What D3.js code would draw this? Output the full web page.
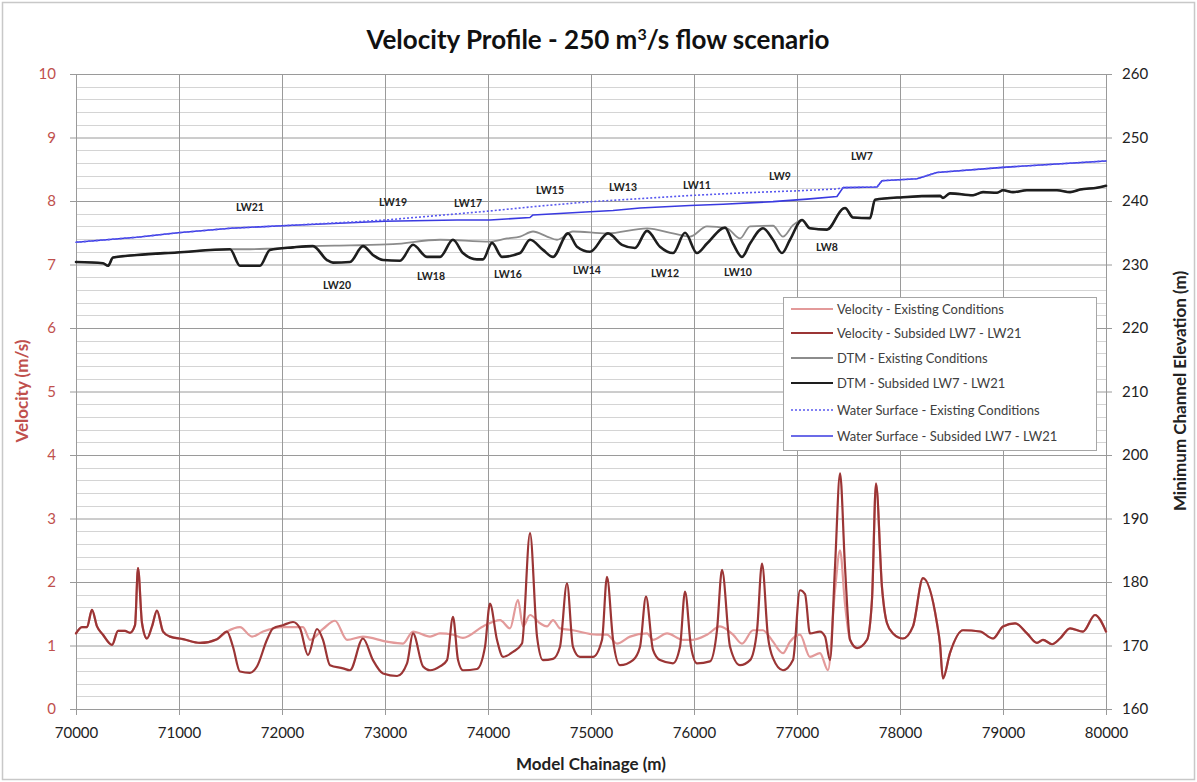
<!DOCTYPE html>
<html>
<head>
<meta charset="utf-8">
<script src="https://cdn.jsdelivr.net/npm/d3@7"></script>
<style>
  html, body { margin: 0; padding: 0; background: #fff; }
  svg { display: block; font-family: Lato, "Open Sans", sans-serif; }
</style>
</head>
<body>
<svg id="chart" width="1197" height="782"></svg>
<script>
// Chainage ticks (m)
const chainageTicks = [70000, 71000, 72000, 73000, 74000, 75000, 76000, 77000, 78000, 79000, 80000];
const velocityTicks = [0, 1, 2, 3, 4, 5, 6, 7, 8, 9, 10];
const elevationTicks = [160, 170, 180, 190, 200, 210, 220, 230, 240, 250, 260];

// Velocity (m/s) vs chainage — subsided LW7–LW21
const velocitySubsided = [
  [70000,1.19],[70058,1.29],[70107,1.29],[70155,1.56],[70204,1.30],[70262,1.17],[70350,1.01],[70408,1.23],
  [70476,1.23],[70524,1.20],[70573,1.32],[70602,2.22],[70641,1.35],[70689,1.11],[70738,1.30],[70786,1.55],
  [70845,1.22],[70913,1.14],[71039,1.10],[71204,1.04],[71369,1.10],[71466,1.22],[71524,0.98],[71592,0.59],
  [71689,0.57],[71757,0.67],[71854,1.09],[71913,1.27],[72010,1.32],[72107,1.37],[72175,1.27],[72252,0.85],
  [72340,1.26],[72398,1.09],[72466,0.69],[72592,0.64],[72660,0.61],[72786,1.11],[72883,0.77],[72981,0.56],
  [73117,0.52],[73214,0.72],[73272,1.19],[73369,0.67],[73437,0.61],[73534,0.67],[73602,0.77],[73660,1.45],
  [73709,0.77],[73757,0.61],[73893,0.63],[73971,0.98],[74019,1.66],[74087,1.09],[74146,0.82],[74243,0.90],
  [74330,1.03],[74408,2.77],[74476,1.14],[74534,0.77],[74631,0.79],[74699,0.98],[74767,1.98],[74825,0.98],
  [74893,0.82],[75019,0.82],[75107,1.09],[75155,2.08],[75214,1.09],[75282,0.69],[75408,0.77],[75476,0.98],
  [75534,1.77],[75602,0.93],[75670,0.77],[75796,0.72],[75864,0.98],[75913,1.85],[75971,0.98],[76029,0.72],
  [76155,0.75],[76223,1.24],[76272,2.19],[76350,0.98],[76447,0.69],[76544,0.77],[76612,1.24],[76660,2.29],
  [76718,1.14],[76767,0.80],[76864,0.61],[76961,0.77],[77029,1.87],[77078,1.81],[77126,1.19],[77223,1.22],
  [77272,1.14],[77320,0.77],[77369,2.24],[77418,3.71],[77466,2.24],[77515,1.09],[77583,0.96],[77680,1.09],
  [77728,1.72],[77767,3.55],[77825,1.92],[77874,1.35],[77932,1.19],[78029,1.11],[78126,1.30],[78223,2.06],
  [78359,1.35],[78388,1.03],[78417,0.48],[78485,0.88],[78612,1.24],[78777,1.22],[78903,1.11],[79000,1.30],
  [79117,1.35],[79233,1.19],[79330,1.04],[79388,1.09],[79476,1.02],[79553,1.11],[79651,1.27],[79777,1.22],
  [79893,1.48],[80000,1.22]
];

// Velocity (m/s) — existing conditions (differs between 71466 and 77515)
const velocityExisting = [
  [70000,1.19],[70058,1.29],[70107,1.29],[70155,1.56],[70204,1.30],[70262,1.17],[70350,1.01],[70408,1.23],
  [70476,1.23],[70524,1.20],[70573,1.32],[70602,2.22],[70641,1.35],[70689,1.11],[70738,1.30],[70786,1.55],
  [70845,1.22],[70913,1.14],[71039,1.10],[71204,1.04],[71369,1.10],[71466,1.22],[71592,1.29],[71709,1.14],
  [71816,1.22],[72010,1.29],[72204,1.29],[72272,1.09],[72398,1.26],[72515,1.39],[72631,1.09],[72786,1.14],
  [73019,1.06],[73175,1.03],[73272,1.22],[73437,1.14],[73534,1.19],[73660,1.17],[73757,1.12],[73951,1.30],
  [74117,1.40],[74214,1.27],[74291,1.72],[74340,1.30],[74408,1.48],[74505,1.35],[74573,1.30],[74631,1.40],
  [74699,1.27],[74825,1.24],[75058,1.17],[75155,1.17],[75252,1.03],[75379,1.14],[75544,1.19],[75602,1.09],
  [75738,1.19],[75893,1.09],[75990,1.09],[76126,1.17],[76252,1.30],[76379,1.17],[76466,1.03],[76573,1.24],
  [76670,1.24],[76709,1.19],[76767,1.06],[76864,0.88],[76932,1.06],[77029,1.17],[77126,0.82],[77223,0.88],
  [77301,0.61],[77369,1.87],[77418,2.50],[77466,1.65],[77515,1.09],[77583,0.96],[77680,1.09],
  [77728,1.72],[77767,3.55],[77825,1.92],[77874,1.35],[77932,1.19],[78029,1.11],[78126,1.30],[78223,2.06],
  [78359,1.35],[78388,1.03],[78417,0.48],[78485,0.88],[78612,1.24],[78777,1.22],[78903,1.11],[79000,1.30],
  [79117,1.35],[79233,1.19],[79330,1.04],[79388,1.09],[79476,1.02],[79553,1.11],[79651,1.27],[79777,1.22],
  [79893,1.48],[80000,1.22]
];

// Minimum channel elevation (m) — subsided DTM
const dtmSubsided = [
  [70000,230.4],[70262,230.2],[70311,229.8],[70359,231.1],[70592,231.5],[70981,231.9],[71495,232.4],[71592,229.8],
  [71786,229.8],[71883,232.3],[72107,232.7],[72301,232.9],[72437,230.7],[72495,230.3],[72660,230.4],[72786,232.9],
  [72883,231.5],[72981,230.7],[73146,230.6],[73272,233.1],[73408,231.2],[73534,231.2],[73660,233.9],[73757,231.8],
  [73893,230.8],[73951,230.8],[74039,233.4],[74136,231.2],[74311,231.8],[74408,233.9],[74534,232.3],[74631,231.2],
  [74777,234.9],[74864,232.8],[74990,232.0],[75165,234.9],[75301,233.1],[75427,232.6],[75544,235.3],[75670,232.8],
  [75796,231.8],[75913,235.0],[76029,231.8],[76126,233.3],[76301,235.8],[76379,233.3],[76466,231.2],[76544,233.3],
  [76670,235.7],[76767,233.9],[76854,231.8],[76932,233.9],[77049,237.0],[77126,235.7],[77291,235.5],[77447,238.8],
  [77466,238.9],[77544,237.4],[77709,237.3],[77757,240.2],[78029,240.6],[78388,240.8],[78417,240.5],[78485,241.2],
  [78709,240.9],[78806,241.4],[78942,241.3],[79000,241.7],[79097,241.4],[79233,241.7],[79524,241.7],[79651,241.4],
  [79748,241.8],[79913,242.1],[80000,242.4]
];

// Minimum channel elevation (m) — existing DTM
const dtmExisting = [
  [70000,230.4],[70262,230.2],[70311,229.8],[70359,231.1],[70592,231.5],[70981,231.9],[71495,232.4],[71689,232.4],
  [71883,232.5],[72107,232.7],[72301,232.9],[72660,233.0],[73078,233.2],[73534,233.9],[74019,233.6],[74184,234.1],
  [74311,234.4],[74437,235.2],[74573,234.4],[74670,233.9],[74825,235.2],[75155,234.9],[75544,235.7],[75796,234.9],
  [75961,234.4],[76126,236.0],[76320,235.7],[76447,234.1],[76544,236.0],[76767,236.1],[76864,234.4],[76961,236.2],
  [77049,237.0],[77126,235.7],[77291,235.5],[77447,238.8],
  [77466,238.9],[77544,237.4],[77709,237.3],[77757,240.2],[78029,240.6],[78388,240.8],[78417,240.5],[78485,241.2],
  [78709,240.9],[78806,241.4],[78942,241.3],[79000,241.7],[79097,241.4],[79233,241.7],[79524,241.7],[79651,241.4],
  [79748,241.8],[79913,242.1],[80000,242.4]
];

// Water surface (m) — subsided
const waterSubsided = [
  [70000,233.5],[70592,234.3],[70990,235.0],[71500,235.7],[72000,236.1],[73000,236.8],[73700,237.0],[74019,237.0],
  [74408,237.4],[74437,237.8],[74990,238.3],[75214,238.5],[75476,238.9],[75961,239.3],[76282,239.5],[76767,239.9],
  [77097,240.3],[77388,240.7],[77447,242.1],[77777,242.2],[77825,243.2],[78165,243.5],[78359,244.5],[79000,245.3],
  [80000,246.3]
];

// Water surface (m) — existing
const waterExisting = [
  [70000,233.5],[70592,234.3],[70990,235.0],[71500,235.7],[72000,236.1],[72800,236.8],[73000,237.0],[73500,237.7],
  [74000,238.4],[74500,239.2],[75000,239.9],[75500,240.4],[76000,240.9],[76500,241.3],[77000,241.6],[77388,241.9],
  [77447,242.1],[77777,242.2],[77825,243.2],[78165,243.5],[78359,244.5],[79000,245.3],[80000,246.3]
];

// Longwall panel labels (chainage, elevation)
const panelLabels = [
  ["LW21",71689,239.1],["LW19",73078,239.8],["LW17",73806,239.7],["LW15",74602,241.7],["LW13",75311,242.2],
  ["LW11",76029,242.5],["LW9",76835,243.9],["LW7",77631,247.1],["LW8",77291,232.8],["LW20",72534,226.8],
  ["LW18",73447,228.2],["LW16",74194,228.5],["LW14",74961,229.1],["LW12",75719,228.7],["LW10",76427,228.8]
];

const legendNames = [
  "Velocity - Existing Conditions",
  "Velocity - Subsided LW7 - LW21",
  "DTM - Existing Conditions",
  "DTM - Subsided LW7 - LW21",
  "Water Surface - Existing Conditions",
  "Water Surface - Subsided LW7 - LW21"
];

const svg = d3.select("#chart");
const W = 1197, H = 782;
const pL = 76, pR = 1106, pT = 74, pB = 709;

const x = d3.scaleLinear().domain([70000, 80000]).range([pL, pR]);
const yV = d3.scaleLinear().domain([0, 10]).range([pB, pT]);
const yE = d3.scaleLinear().domain([160, 260]).range([pB, pT]);

// Chart frame
svg.append("rect").attr("x", 2.5).attr("y", 2.5).attr("width", W - 5).attr("height", H - 5)
  .attr("fill", "#fff").attr("stroke", "#c8c8c8").attr("stroke-width", 1.5);

// Minor horizontal gridlines
const minor = d3.range(0, 10.001, 0.2).filter(v => Math.abs(v - Math.round(v)) > 1e-6);
svg.append("g").selectAll("line").data(minor).join("line")
  .attr("x1", pL).attr("x2", pR)
  .attr("y1", d => Math.round(yV(d)) + 0.5).attr("y2", d => Math.round(yV(d)) + 0.5)
  .attr("stroke", "#d4d4d4").attr("stroke-width", 1);

// Major horizontal gridlines
const gridY = svg.append("g").attr("transform", `translate(${pL},0)`)
  .call(d3.axisLeft(yV).tickValues(velocityTicks).tickSize(-(pR - pL)).tickFormat(""));
gridY.select(".domain").remove();
gridY.selectAll("line").attr("stroke", "#9a9a9a");

// Vertical gridlines
const gridX = svg.append("g").attr("transform", `translate(0,${pB})`)
  .call(d3.axisBottom(x).tickValues(chainageTicks).tickSize(-(pB - pT)).tickFormat(""));
gridX.select(".domain").remove();
gridX.selectAll("line").attr("stroke", "#9a9a9a");

// Left axis (velocity)
const axL = svg.append("g").attr("transform", `translate(${pL},0)`)
  .call(d3.axisLeft(yV).tickValues(velocityTicks).tickSize(6).tickPadding(14).tickFormat(d3.format("d")));
axL.select(".domain").attr("stroke", "#9a9a9a");
axL.selectAll("line").attr("stroke", "#9a9a9a");
axL.selectAll("text").attr("fill", "#c0504d").style("font-size", "15px").style("font-family", "Lato, sans-serif");

// Right axis (elevation)
const axR = svg.append("g").attr("transform", `translate(${pR},0)`)
  .call(d3.axisRight(yE).tickValues(elevationTicks).tickSize(6).tickPadding(10).tickFormat(d3.format("d")));
axR.select(".domain").attr("stroke", "#9a9a9a");
axR.selectAll("line").attr("stroke", "#9a9a9a");
axR.selectAll("text").attr("fill", "#222").style("font-size", "15px").style("font-family", "Lato, sans-serif");

// Bottom axis (chainage)
const axB = svg.append("g").attr("transform", `translate(0,${pB})`)
  .call(d3.axisBottom(x).tickValues(chainageTicks).tickSize(6).tickPadding(12).tickFormat(d3.format("d")));
axB.select(".domain").attr("stroke", "#9a9a9a");
axB.selectAll("line").attr("stroke", "#9a9a9a");
axB.selectAll("text").attr("fill", "#222").style("font-size", "15px").style("font-family", "Lato, sans-serif");

// Series
const lineV = d3.line().x(d => x(d[0])).y(d => yV(d[1])).curve(d3.curveMonotoneX);
const lineE = d3.line().x(d => x(d[0])).y(d => yE(d[1])).curve(d3.curveMonotoneX);
const lineEl = d3.line().x(d => x(d[0])).y(d => yE(d[1]));

const styles = [
  { color: "#e39a9a", width: 2.2, dash: null },
  { color: "#9b3535", width: 2.2, dash: null },
  { color: "#8c8c8c", width: 1.8, dash: null },
  { color: "#1e1e1e", width: 2.6, dash: null },
  { color: "#5a5af0", width: 1.6, dash: "2,2" },
  { color: "#3a3ae0", width: 1.6, dash: null }
];

const plot = svg.append("g").attr("fill", "none").attr("stroke-linejoin", "round").attr("stroke-linecap", "round");
function drawPath(data, gen, s) {
  const p = plot.append("path").datum(data).attr("d", gen)
    .attr("stroke", s.color).attr("stroke-width", s.width);
  if (s.dash) p.attr("stroke-dasharray", s.dash).attr("stroke-linecap", "butt");
}
drawPath(velocityExisting, lineV, styles[0]);
drawPath(velocitySubsided, lineV, styles[1]);
drawPath(dtmExisting, lineE, styles[2]);
drawPath(dtmSubsided, lineE, styles[3]);
drawPath(waterSubsided, lineEl, styles[5]);
drawPath(waterExisting, lineEl, styles[4]);

// Panel labels
svg.append("g").selectAll("text").data(panelLabels).join("text")
  .attr("x", d => x(d[1])).attr("y", d => yE(d[2]))
  .attr("text-anchor", "middle").attr("dominant-baseline", "central")
  .attr("fill", "#222").style("font-size", "10.5px").style("font-weight", "bold")
  .text(d => d[0]);

// Legend
const lg = svg.append("g").attr("transform", "translate(783,297)");
lg.append("rect").attr("x", 0.5).attr("y", 0.5).attr("width", 313).attr("height", 153)
  .attr("fill", "#fff").attr("stroke", "#a6a6a6");
const lgRows = [12, 36, 61, 86, 113, 139];
legendNames.forEach((name, i) => {
  const s = styles[i];
  const l = lg.append("line").attr("x1", 8).attr("x2", 50).attr("y1", lgRows[i]).attr("y2", lgRows[i])
    .attr("stroke", s.color).attr("stroke-width", Math.min(s.width, 2.2));
  if (s.dash) l.attr("stroke-dasharray", s.dash);
  lg.append("text").attr("x", 54).attr("y", lgRows[i]).attr("dominant-baseline", "central")
    .attr("fill", "#404040").style("font-size", "13px").text(name);
});

// Titles
const title = svg.append("text").attr("x", 598).attr("y", 49).attr("text-anchor", "middle")
  .attr("fill", "#111").style("font-size", "26px").style("font-weight", "bold")
  .style("font-family", "Lato, sans-serif");
title.append("tspan").text("Velocity Profile - 250 m");
title.append("tspan").attr("dy", -9).style("font-size", "16px").text("3");
title.append("tspan").attr("dy", 9).text("/s flow scenario");

svg.append("text").attr("transform", "translate(28,391) rotate(-90)").attr("text-anchor", "middle")
  .attr("fill", "#c0504d").style("font-size", "17px").style("font-weight", "bold").text("Velocity (m/s)");

svg.append("text").attr("transform", "translate(1186,391) rotate(-90)").attr("text-anchor", "middle")
  .attr("fill", "#222").style("font-size", "17px").style("font-weight", "bold").text("Minimum Channel Elevation (m)");

svg.append("text").attr("x", 591).attr("y", 770).attr("text-anchor", "middle")
  .attr("fill", "#222").style("font-size", "17px").style("font-weight", "bold").text("Model Chainage (m)");
</script>
</body>
</html>
